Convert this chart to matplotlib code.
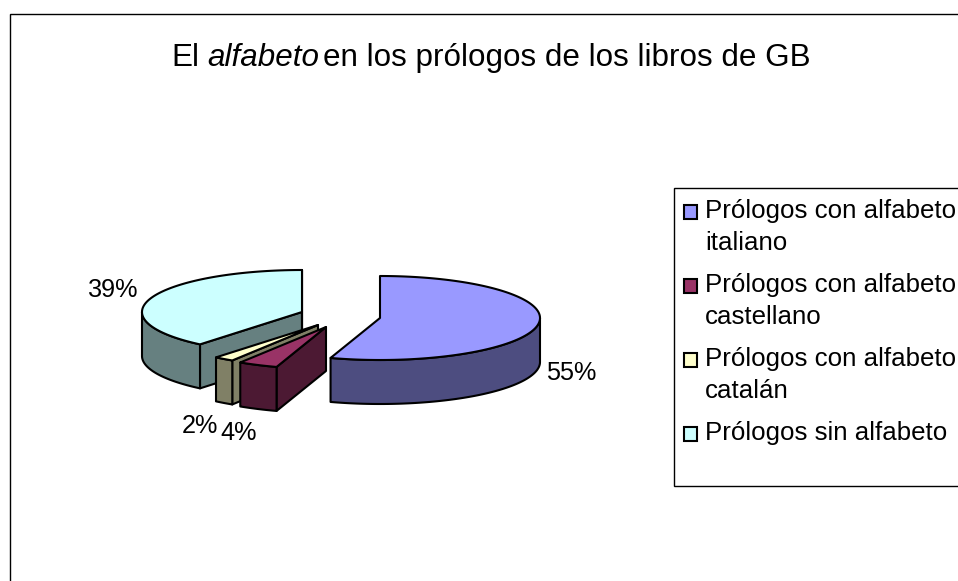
import numpy as np
import matplotlib
matplotlib.use("Agg")
import matplotlib.pyplot as plt
from matplotlib.patches import Polygon, Rectangle

plt.rcParams['font.family'] = ['Liberation Sans', 'DejaVu Sans']

# data
categories = ["Prólogos con alfabeto\nitaliano", "Prólogos con alfabeto\ncastellano",
              "Prólogos con alfabeto\ncatalán", "Prólogos sin alfabeto"]
values = [55, 4, 2, 39]

# styles / geometry (pixel space)
top_colors = ["#9999FF", "#993366", "#FFFFCC", "#CCFFFF"]
side_colors = ["#4D4D80", "#4C1933", "#808066", "#668080"]
centers = [(380, 318), (326, 327), (318, 325), (302, 312)]
label_pos = [(546, 380), (220, 440), (182, 433), (88, 297)]
legend_swatch_y = [205, 279, 353, 427]
legend_text_y = [218, 292, 366, 440]
RX, RY, DEPTH = 160, 42, 44
LW = 1.5

W, H = 958, 581
fig = plt.figure(figsize=(W / 100, H / 100), dpi=100)
ax = fig.add_axes([0, 0, 1, 1])
ax.set_xlim(0, W)
ax.set_ylim(H, 0)
ax.axis("off")


def arc(c, t0, t1, dy=0):
    t = np.radians(np.linspace(t0, t1, max(int(abs(t1 - t0)) * 2, 2)))
    return np.column_stack([c[0] + RX * np.sin(t), c[1] - RY * np.cos(t) + dy])


def poly(pts, fc, z):
    ax.add_patch(Polygon(pts, closed=True, fc=fc, ec="black", lw=LW, zorder=z, joinstyle="round"))


# chart area frame
ax.add_patch(Rectangle((10, 14), W, H, fc="white", ec="black", lw=1.0, zorder=0))

# slices
bounds = np.cumsum([0] + values) * 3.6
for i in [3, 2, 1, 0]:
    t0, t1 = bounds[i], bounds[i + 1]
    c = centers[i]
    z = 5 - i
    # radial cut faces
    if 180 < t0 < 360:
        p = arc(c, t0, t0 + 0.001)[0]
        poly([c, p, (p[0], p[1] + DEPTH), (c[0], c[1] + DEPTH)], side_colors[i], z)
    if 0 < t1 <= 360 and (t1 < 180 or t1 == 360):
        p = arc(c, t1, t1 + 0.001)[0]
        poly([c, p, (p[0], p[1] + DEPTH), (c[0], c[1] + DEPTH)], side_colors[i], z)
    # outer wall (front half only)
    a0, a1 = max(t0, 90), min(t1, 270)
    if a1 > a0:
        poly(np.vstack([arc(c, a0, a1), arc(c, a1, a0, DEPTH)]), side_colors[i], z)
    # top
    poly(np.vstack([[c], arc(c, t0, t1)]), top_colors[i], z)

# data labels
for v, (x, y) in zip(values, label_pos):
    ax.text(x, y, f"{v}%", fontsize=18.2, ha="left", va="baseline", color="black", zorder=20)

# title
ax.text(171, 66, "El", fontsize=22.6, ha="left", va="baseline")
ax.text(207, 66, "alfabeto", fontsize=22.6, style="italic", ha="left", va="baseline")
ax.text(323, 66, "en los prólogos de los libros de GB", fontsize=22.6, ha="left", va="baseline")

# legend
ax.add_patch(Rectangle((674, 188), W, 298, fc="white", ec="black", lw=1.0, zorder=1))
for i, cat in enumerate(categories):
    ax.add_patch(Rectangle((684, legend_swatch_y[i]), 13, 14, fc=top_colors[i], ec="black", lw=LW, zorder=3))
    lines = cat.split("\n")
    for j, line in enumerate(lines):
        ax.text(705, legend_text_y[i] + 32 * j, line, fontsize=18.6, ha="left", va="baseline", zorder=3)

fig.savefig("out.png", dpi=100)
